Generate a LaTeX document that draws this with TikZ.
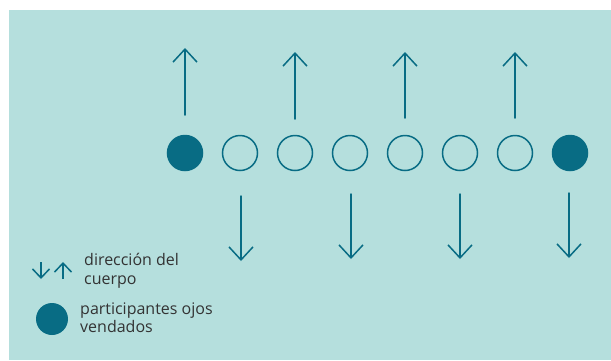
\documentclass[tikz,border=0pt]{standalone}
\usepackage{fontspec}
\setmainfont{Open Sans}
\usetikzlibrary{arrows.meta}
\definecolor{bgteal}{HTML}{B5DFDD}
\definecolor{deepteal}{HTML}{086C84}
\definecolor{txtgray}{HTML}{333333}
\begin{document}
\begin{tikzpicture}[x=1pt,y=-1pt,
  person/.style={circle,draw=deepteal,line width=1.5pt,minimum size=35pt,inner sep=0pt},
  blind/.style={person,fill=deepteal},
  walk/.style={draw=deepteal,line width=1.5pt,line cap=round,-{Straight Barb[length=13pt,width=24pt]}},
  keywalk/.style={draw=deepteal,line width=1.5pt,-{Straight Barb[length=9pt,width=17pt]}},
  label/.style={anchor=base west,text=txtgray,font=\fontsize{16pt}{19pt}\selectfont,inner sep=0pt}]
\useasboundingbox (0,0) rectangle (611,360);
\fill[white] (0,0) rectangle (611,360);
\fill[bgteal] (9,10) rectangle (611,360);
% row of participants
\node[blind]  (p1) at (185,153) {};
\node[person] (p2) at (240,153) {};
\node[person] (p3) at (295,153) {};
\node[person] (p4) at (350,153) {};
\node[person] (p5) at (405,153) {};
\node[person] (p6) at (460,153) {};
\node[person] (p7) at (515,153) {};
\node[blind]  (p8) at (570,153) {};
% walking directions: tails above/below each person, heads outward
\coordinate (t1) at (185,115);
\coordinate (t3) at (295,119);
\coordinate (t5) at (405,118);
\coordinate (t7) at (515,118);
\coordinate (u1) at (185,48);
\coordinate (u3) at (295,52);
\coordinate (u5) at (405,52);
\coordinate (u7) at (515,52);
\coordinate (t2) at (241,196);
\coordinate (t4) at (351,194);
\coordinate (t6) at (460,194);
\coordinate (t8) at (569,193);
\coordinate (d2) at (241,261);
\coordinate (d4) at (351,259);
\coordinate (d6) at (460,259);
\coordinate (d8) at (569,258);
\draw[walk] (t1) -- (u1);
\draw[walk] (t3) -- (u3);
\draw[walk] (t5) -- (u5);
\draw[walk] (t7) -- (u7);
\draw[walk] (t2) -- (d2);
\draw[walk] (t4) -- (d4);
\draw[walk] (t6) -- (d6);
\draw[walk] (t8) -- (d8);
% key
\coordinate (kd0) at (41,262);
\coordinate (kd1) at (41,279);
\coordinate (ku0) at (63,279);
\coordinate (ku1) at (63,262);
\draw[keywalk] (kd0) -- (kd1);
\draw[keywalk] (ku0) -- (ku1);
\node[label] (k1) at (84,265) {dirección del};
\node[label] (k2) at (84,284) {cuerpo};
\node[circle,fill=deepteal,minimum size=32pt,inner sep=0pt] (kb) at (52,319) {};
\node[label] (k3) at (80,314) {participantes ojos};
\node[label] (k4) at (80,332) {vendados};
\end{tikzpicture}
\end{document}
